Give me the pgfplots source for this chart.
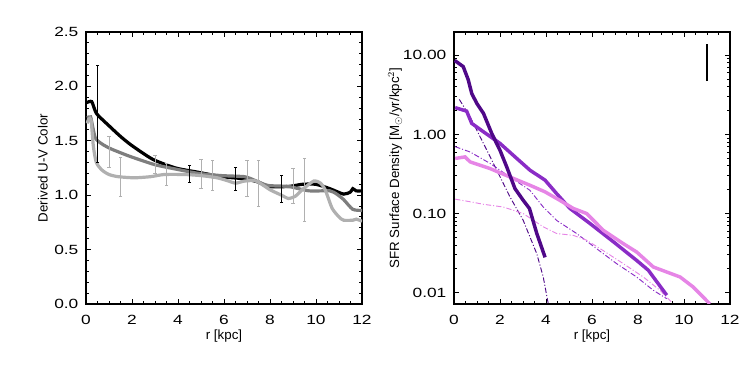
\documentclass[border=0pt]{standalone}
\usepackage{fontspec}
\setmainfont{Liberation Sans}
\newfontfamily\tickfont{Liberation Sans}[FakeStretch=1.3]
\newfontfamily\labfont{Poppins}
\usepackage{pgfplots}
\pgfplotsset{compat=1.18}
\definecolor{cdgray}{HTML}{7E7E7E}
\definecolor{clgray}{HTML}{B0B0B0}
\definecolor{pdark}{HTML}{4F0888}
\definecolor{pmid}{HTML}{8A2CC6}
\definecolor{ppink}{HTML}{E685E6}
\begin{document}
\begin{tikzpicture}
\useasboundingbox (0,0) rectangle (560.25pt,288pt);
\pgfplotsset{
  panel/.style={
    scale only axis,
    width=207pt, height=204pt,
    axis line style={line width=1.1pt},
    tick style={line width=0.7pt, black},
    major tick length=4pt, minor tick length=2pt,
    tick align=inside,
    xmin=0, xmax=12,
    xtick={0,2,...,12}, minor x tick num=3,
    /pgf/number format/assume math mode=true,
    ticklabel style={font=\tickfont\fontsize{10pt}{12pt}\selectfont},
    xticklabel style={anchor=base, yshift=-15.75pt},
    yticklabel style={anchor=east, xshift=-2.2pt},
    label style={font=\labfont\fontsize{8.2pt}{10pt}\selectfont},
    xlabel={r [kpc]},
    every axis x label/.style={at={([yshift=-27pt]axis description cs:0.5,0)}, anchor=base},
  },
  ebar/.style={line width=0.6pt, mark=-, mark size=1.3pt, mark options={solid, line width=0.6pt}, unbounded coords=jump},
}
% ---------------- left panel ----------------
\begin{axis}[panel, at={(64.5pt,60pt)}, anchor=south west,
    ymin=0, ymax=2.5, ytick={0,0.5,...,2.5}, minor y tick num=4,
    yticklabel style={/pgf/number format/.cd, fixed, fixed zerofill, precision=1},
    ylabel={Derived U-V Color},
    every axis y label/.style={at={([xshift=-28.7pt]axis description cs:0,0.5)}, rotate=90, anchor=base}]
% black curve
\addplot[black, line width=2.4pt, smooth, tension=0.4] coordinates {
  (0.03,1.85) (0.25,1.86) (0.46,1.75) (1.04,1.63) (1.5,1.54) (1.97,1.46)
  (2.9,1.33) (3.9,1.25) (4.9,1.21) (5.9,1.17) (6.9,1.15) (7.5,1.12)
  (7.9,1.08) (8.8,1.08) (9.4,1.10) (10.0,1.10) (10.6,1.06) (11.2,1.01)
  (11.5,1.03) (11.6,1.06) (11.75,1.04) (12.0,1.04)
};
% dark gray curve
\addplot[cdgray, line width=2.4pt, smooth, tension=0.4] coordinates {
  (0.05,1.71) (0.2,1.72) (0.3,1.62) (0.42,1.52) (0.7,1.47) (1.04,1.43)
  (1.5,1.39) (2.0,1.35) (3.0,1.28) (3.9,1.24) (4.9,1.20) (5.9,1.18)
  (6.9,1.17) (7.3,1.14) (7.9,1.09) (8.8,1.08) (9.7,1.04) (10.6,1.04)
  (10.9,1.01) (11.2,0.96) (11.6,0.87) (12.0,0.86)
};
% light gray curve
\addplot[clgray, line width=2.4pt, smooth, tension=0.4] coordinates {
  (0.05,1.66) (0.12,1.70) (0.22,1.69) (0.32,1.45) (0.45,1.30) (0.7,1.23)
  (1.0,1.19) (1.4,1.17) (2.1,1.16) (2.8,1.17) (3.4,1.19) (4.3,1.19)
  (5.0,1.18) (5.7,1.16) (6.2,1.13) (6.5,1.11) (6.9,1.13) (7.4,1.13)
  (8.0,1.05) (8.5,1.00) (8.8,0.97) (9.1,0.99) (9.4,1.05) (9.9,1.13)
  (10.2,1.11) (10.4,1.05) (10.7,0.88) (11.0,0.80) (11.2,0.77) (11.6,0.77)
  (11.75,0.78) (12.0,0.76)
};
% error bars (low/high ends)
\addplot[clgray, ebar] coordinates {
  (1.0,1.26) (1.0,1.54) (1.0,nan)
  (1.5,0.99) (1.5,1.35) (1.5,nan)
  (3.0,1.20) (3.0,1.37) (3.0,nan)
  (3.5,1.09) (3.5,1.29) (3.5,nan)
  (5.0,1.06) (5.0,1.33) (5.0,nan)
  (5.5,1.04) (5.5,1.32) (5.5,nan)
  (7.0,0.99) (7.0,1.32) (7.0,nan)
  (7.5,0.90) (7.5,1.32) (7.5,nan)
  (9.0,0.92) (9.0,1.25) (9.0,nan)
  (9.5,0.76) (9.5,1.34)
};
\addplot[black, ebar] coordinates {
  (0.5,1.30) (0.5,2.19) (0.5,nan)
  (4.5,1.12) (4.5,1.27) (4.5,nan)
  (6.5,1.04) (6.5,1.26) (6.5,nan)
  (8.5,0.93) (8.5,1.18)
};
\end{axis}
% ---------------- right panel ----------------
\begin{axis}[panel, at={(340.5pt,60pt)}, anchor=south west,
    ymode=log, ymin=0.0072, ymax=19.7,
    ytick={0.01,0.1,1,10}, yticklabels={0.01,0.10,1.00,10.00},
    ylabel={SFR Surface Density [M$_\odot$/yr/kpc$^2$]},
    every axis y label/.style={at={([xshift=-41.2pt]axis description cs:0,0.5)}, rotate=90, anchor=base}]
% dash-dot components
\addplot[pdark, line width=0.7pt, dash pattern=on 4pt off 1.5pt on 0.8pt off 1.5pt] coordinates {
  (0.23,2.77) (0.7,1.67) (1.28,0.77) (1.86,0.354) (2.43,0.163) (3.01,0.082)
  (3.6,0.031) (3.88,0.0158) (4.1,0.0072)
};
\addplot[pmid, line width=0.7pt, dash pattern=on 4pt off 1.5pt on 0.8pt off 1.5pt] coordinates {
  (0.05,0.70) (0.7,0.60) (1.57,0.43) (2.43,0.29) (3.3,0.197) (3.88,0.121)
  (4.46,0.082) (5.33,0.056) (6.2,0.036) (7.07,0.0233) (7.94,0.0158)
  (8.67,0.0107) (9.25,0.0084)
};
\addplot[ppink, line width=0.7pt, dash pattern=on 4pt off 1.5pt on 0.8pt off 1.5pt] coordinates {
  (0.05,0.152) (0.7,0.141) (1.28,0.131) (2.14,0.121) (3.01,0.100) (3.88,0.068)
  (4.46,0.056) (5.19,0.053) (5.77,0.046) (6.49,0.034) (7.36,0.0233)
  (8.23,0.0158) (8.96,0.0107) (9.46,0.0076)
};
% thick profiles
\addplot[pmid, line width=2.6pt] coordinates {
  (0.05,2.18) (0.55,1.97) (0.77,1.38) (1.28,1.08) (2.0,0.77) (2.72,0.50)
  (3.3,0.354) (3.96,0.264) (4.46,0.179) (5.04,0.116) (5.91,0.075)
  (6.93,0.044) (7.94,0.0256) (8.45,0.0192) (9.25,0.0093)
};
\addplot[ppink, line width=2.6pt] coordinates {
  (0.05,0.497) (0.48,0.52) (0.7,0.45) (1.57,0.37) (2.43,0.29) (3.3,0.228)
  (3.96,0.188) (4.6,0.147) (5.19,0.116) (5.77,0.10) (6.49,0.0615)
  (7.36,0.0417) (7.94,0.0327) (8.67,0.0211) (9.83,0.0158) (10.4,0.0118)
  (11.13,0.0072)
};
\addplot[pdark, line width=2.6pt] coordinates {
  (0.03,8.6) (0.4,7.2) (0.62,4.9) (0.77,3.3) (0.99,2.47) (1.28,1.85)
  (1.64,1.03) (2.0,0.63) (2.29,0.39) (2.65,0.207) (3.01,0.147) (3.28,0.116)
  (3.6,0.056) (3.96,0.028)
};
% scale bar
\addplot[black, line width=1.6pt] coordinates {(11.0,4.73) (11.0,13.8)};
\end{axis}
\end{tikzpicture}
\end{document}
